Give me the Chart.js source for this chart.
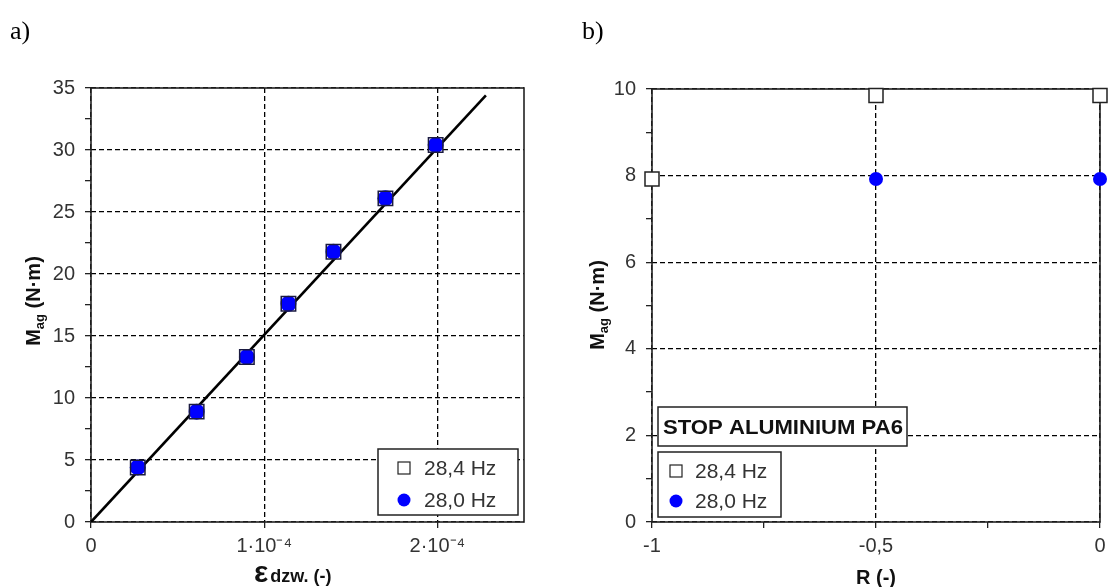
<!DOCTYPE html>
<html><head><meta charset="utf-8">
<script src="https://cdn.jsdelivr.net/npm/chart.js@4.4.1/dist/chart.umd.min.js"></script>
<style>
html,body{margin:0;padding:0;background:#fff;width:1115px;height:587px;overflow:hidden;}
.lab{position:absolute;font-family:'Liberation Serif','Times New Roman',serif;font-size:26px;line-height:26px;color:#000;}
#wa{position:absolute;left:0;top:0;width:560px;height:587px;}
#wb{position:absolute;left:560px;top:0;width:555px;height:587px;}
</style></head><body>
<div id="wa"><canvas id="ca"></canvas></div>
<div id="wb"><canvas id="cb"></canvas></div>
<div class="lab" style="left:10px;top:18px">a)</div>
<div class="lab" style="left:582px;top:18px">b)</div>
<script>
// ---------- data ----------
const seriesNames = ['28,4 Hz', '28,0 Hz'];
// chart a)
const aStrain = [0.27e-4, 0.61e-4, 0.90e-4, 1.14e-4, 1.40e-4, 1.70e-4, 1.99e-4];
const aMag284 = [4.4, 8.9, 13.3, 17.6, 21.8, 26.1, 30.4];
const aMag280 = [4.4, 8.9, 13.3, 17.6, 21.8, 26.1, 30.4];
const aFitX = [0, 2.28e-4];
const aFitY = [0, 34.4];
const aXTicks = [0, 1e-4, 2e-4];
const aXTickLabels = ['0', '1·10⁻⁴', '2·10⁻⁴'];
const aYTicks = [0, 2.5, 5, 7.5, 10, 12.5, 15, 17.5, 20, 22.5, 25, 27.5, 30, 32.5, 35];
const aYTickLabels = ['0', '', '5', '', '10', '', '15', '', '20', '', '25', '', '30', '', '35'];
// chart b)
const bR284 = [-1, -0.5, 0];
const bMag284 = [7.92, 9.85, 9.85];
const bR280 = [-0.5, 0];
const bMag280 = [7.92, 7.92];
const bXTicks = [-1, -0.75, -0.5, -0.25, 0];
const bXTickLabels = ['-1', '', '-0,5', '', '0'];
const bYTicks = [0, 1, 2, 3, 4, 5, 6, 7, 8, 9, 10];
const bYTickLabels = ['0', '', '2', '', '4', '', '6', '', '8', '', '10'];
const bNote = 'STOP ALUMINIUM PA6';

// ---------- helpers ----------
const FONT = "'Liberation Sans', Arial, sans-serif";
Chart.defaults.font.family = FONT;

function mkScale(axis, min, max, vals, labels, fixed) {
  return {
    type: 'linear', min: min, max: max,
    afterBuildTicks: s => { s.ticks = vals.map(v => ({ value: v })); },
    afterFit: s => { if (axis === 'x') s.height = fixed; else s.width = fixed; },
    ticks: {
      autoSkip: false, maxRotation: 0, minRotation: 0,
      padding: axis === 'x' ? 6 : 10, color: '#333', font: { size: 20 },
      callback: (v, i) => labels[i]
    },
    grid: {
      color: c => labels[c.index] ? '#000' : 'rgba(0,0,0,0)',
      lineWidth: 1.3, tickBorderDash: [0, 0],
      tickColor: '#222', tickLength: 6, tickWidth: 1.3, drawTicks: true
    },
    border: { display: false, dash: [5, 3] },
    title: { display: false }
  };
}

function drawYTitle(ctx, bx, cy) {
  ctx.save();
  ctx.translate(bx, cy);
  ctx.rotate(-Math.PI / 2);
  const f1 = 'bold 20px ' + FONT, f2 = 'bold 13px ' + FONT;
  ctx.font = f1; const wM = ctx.measureText('M').width; const wR = ctx.measureText(' (N·m)').width;
  ctx.font = f2; const wS = ctx.measureText('ag').width;
  let x = -(wM + wS + wR) / 2;
  ctx.fillStyle = '#111'; ctx.textBaseline = 'alphabetic'; ctx.textAlign = 'left';
  ctx.font = f1; ctx.fillText('M', x, 0); x += wM;
  ctx.font = f2; ctx.fillText('ag', x, 4); x += wS;
  ctx.font = f1; ctx.fillText(' (N·m)', x, 0);
  ctx.restore();
}

function drawLegend(ctx, bx, by, bw, bh, sx, tx, y1, y2, fs) {
  ctx.save();
  ctx.fillStyle = '#fff'; ctx.fillRect(bx, by, bw, bh);
  ctx.strokeStyle = '#222'; ctx.lineWidth = 1.5; ctx.strokeRect(bx, by, bw, bh);
  ctx.fillStyle = '#fff'; ctx.fillRect(sx - 6, y1 - 6, 12, 12);
  ctx.lineWidth = 1.2; ctx.strokeRect(sx - 6, y1 - 6, 12, 12);
  ctx.fillStyle = '#0000ff'; ctx.beginPath(); ctx.arc(sx, y2, 6.5, 0, Math.PI * 2); ctx.fill();
  ctx.fillStyle = '#333'; ctx.font = fs + 'px ' + FONT; ctx.textBaseline = 'middle'; ctx.textAlign = 'left';
  ctx.fillText(seriesNames[0], tx, y1 + 1);
  ctx.fillText(seriesNames[1], tx, y2 + 1);
  ctx.restore();
}

function framePlugin() {
  return {
    id: 'frame',
    beforeDatasetsDraw(chart) {
      const a = chart.chartArea, ctx = chart.ctx;
      ctx.save(); ctx.strokeStyle = '#222'; ctx.lineWidth = 1.6;
      ctx.strokeRect(a.left, a.top, a.right - a.left, a.bottom - a.top);
      ctx.restore();
    }
  };
}

const common = {
  responsive: true, maintainAspectRatio: false, animation: false, events: [],
  devicePixelRatio: 1,
  plugins: { legend: { display: false }, tooltip: { enabled: false } }
};

// ---------- chart a ----------
new Chart(document.getElementById('ca'), {
  type: 'scatter',
  data: {
    datasets: [
      { label: seriesNames[0], data: aStrain.map((x, i) => ({ x: x, y: aMag284[i] })),
        pointStyle: 'rect', pointRadius: 10.2, backgroundColor: 'rgba(0,0,0,0)',
        borderColor: '#1a1a40', borderWidth: 1.5, order: 1 },
      { label: seriesNames[1], data: aStrain.map((x, i) => ({ x: x, y: aMag280[i] })),
        pointStyle: 'circle', pointRadius: 8, backgroundColor: '#0000ff', borderWidth: 0, order: 2 },
      { label: 'fit', data: aFitX.map((x, i) => ({ x: x, y: aFitY[i] })), showLine: true,
        pointRadius: 0, borderColor: '#000', borderWidth: 2.6, order: 3 }
    ]
  },
  options: Object.assign({}, common, {
    layout: { padding: { left: 0, right: 36, top: 88, bottom: 0 } },
    scales: {
      x: mkScale('x', 0, 2.5e-4, aXTicks, aXTickLabels, 65),
      y: mkScale('y', 0, 35, aYTicks, aYTickLabels, 91)
    }
  }),
  plugins: [framePlugin(), {
    id: 'decorA',
    afterDraw(chart) {
      const ctx = chart.ctx;
      drawYTitle(ctx, 40, 301);
      ctx.save(); ctx.fillStyle = '#111'; ctx.textBaseline = 'alphabetic'; ctx.textAlign = 'left';
      ctx.font = 'bold 30px ' + FONT; ctx.fillText('ε', 254, 582);
      const we = ctx.measureText('ε').width;
      ctx.font = 'bold 18px ' + FONT; ctx.fillText('dzw. (-)', 254 + we + 2, 582);
      ctx.restore();
      drawLegend(ctx, 378, 449, 140, 66, 404, 424, 468, 500, 21);
    }
  }]
});

// ---------- chart b ----------
new Chart(document.getElementById('cb'), {
  type: 'scatter',
  data: {
    datasets: [
      { label: seriesNames[0], data: bR284.map((x, i) => ({ x: x, y: bMag284[i] })),
        pointStyle: 'rect', pointRadius: 9.9, backgroundColor: '#fff',
        borderColor: '#222', borderWidth: 1.5, order: 1, clip: false },
      { label: seriesNames[1], data: bR280.map((x, i) => ({ x: x, y: bMag280[i] })),
        pointStyle: 'circle', pointRadius: 7, backgroundColor: '#0000ff', borderWidth: 0, order: 2, clip: false }
    ]
  },
  options: Object.assign({}, common, {
    layout: { padding: { left: 0, right: 15, top: 89, bottom: 0 } },
    scales: {
      x: mkScale('x', -1, 0, bXTicks, bXTickLabels, 65),
      y: mkScale('y', 0, 10, bYTicks, bYTickLabels, 92)
    }
  }),
  plugins: [framePlugin(), {
    id: 'decorB',
    afterDraw(chart) {
      const ctx = chart.ctx;
      drawYTitle(ctx, 44, 305);
      ctx.save(); ctx.fillStyle = '#111'; ctx.textBaseline = 'alphabetic'; ctx.textAlign = 'center';
      ctx.font = 'bold 20px ' + FONT;
      ctx.fillText('R (-)', chart.scales.x.getPixelForValue(bXTicks[2]), 584);
      ctx.restore();
      ctx.save();
      ctx.fillStyle = '#fff'; ctx.fillRect(98, 407, 249, 39);
      ctx.strokeStyle = '#222'; ctx.lineWidth = 1.5; ctx.strokeRect(98, 407, 249, 39);
      ctx.font = 'bold 20px ' + FONT; ctx.fillStyle = '#111'; ctx.textBaseline = 'alphabetic'; ctx.textAlign = 'left';
      const w = ctx.measureText(bNote).width, target = 240;
      ctx.translate(103, 434); ctx.scale(Math.min(1.3, target / w), 1);
      ctx.fillText(bNote, 0, 0);
      ctx.restore();
      drawLegend(ctx, 98, 452, 123, 65, 116, 135, 471, 501, 21);
    }
  }]
});
</script>
</body></html>
